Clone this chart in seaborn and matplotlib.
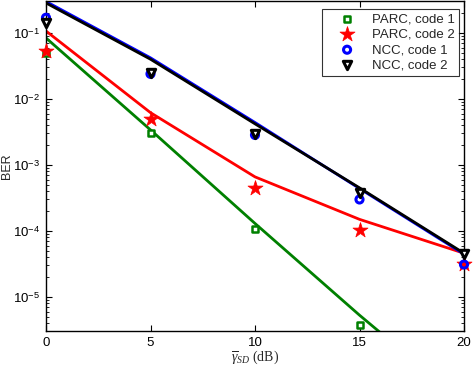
import numpy as np
import matplotlib
matplotlib.use('Agg')
import matplotlib.pyplot as plt
import seaborn as sns
from matplotlib.ticker import LogLocator, FuncFormatter, NullFormatter

# SNR axis (dB)
snr = [0, 5, 10, 15, 20]

# analytical curves
parc1_curve = [0.084, 3.4e-3, 1.3e-4, 5.3e-6, 2.5e-7]
parc2_curve = [0.107, 6.2e-3, 6.6e-4, 1.5e-4, 4.6e-5]
ncc1_curve = [0.30, 0.042, 4.4e-3, 4.4e-4, 4.45e-5]
ncc2_curve = [0.285, 0.040, 4.2e-3, 4.5e-4, 4.6e-5]

# simulated points
parc1_sim_x = [0, 5, 10, 15]
parc1_sim = [0.05, 3.1e-3, 1.07e-4, 3.7e-6]
parc2_sim = [0.053, 5.0e-3, 4.5e-4, 1.05e-4, 3.2e-5]
ncc1_sim = [0.17, 0.024, 2.85e-3, 3.0e-4, 3.1e-5]
ncc2_sim = [0.14, 0.025, 2.95e-3, 3.8e-4, 4.5e-5]

sns.set_style('ticks')
plt.rcParams['font.family'] = ['Liberation Sans', 'DejaVu Sans']
plt.rcParams['mathtext.fontset'] = 'custom'
plt.rcParams['mathtext.rm'] = 'Liberation Sans'
plt.rcParams['mathtext.it'] = 'Liberation Serif:italic'
plt.rcParams['mathtext.bf'] = 'Liberation Sans:bold'

fig = plt.figure(figsize=(4.73, 3.66), dpi=100)
ax = fig.add_axes([46 / 473, 35 / 366, 418 / 473, 330 / 366])

lw = 2
sns.lineplot(x=snr, y=parc1_curve, color='green', lw=lw, ax=ax, legend=False)
sns.lineplot(x=snr, y=parc2_curve, color='red', lw=lw, ax=ax, legend=False)
sns.lineplot(x=snr, y=ncc1_curve, color='blue', lw=lw, ax=ax, legend=False)
sns.lineplot(x=snr, y=ncc2_curve, color='black', lw=lw, ax=ax, legend=False)

sns.scatterplot(x=parc1_sim_x, y=parc1_sim, marker='s', s=18, facecolor='white',
                edgecolor='green', linewidth=1.8, label='PARC, code 1', ax=ax,
                zorder=5, clip_on=False)
sns.scatterplot(x=snr, y=parc2_sim, marker='*', s=130, color='red',
                edgecolor='red', linewidth=0.5, label='PARC, code 2', ax=ax,
                zorder=5, clip_on=False)
sns.scatterplot(x=snr, y=ncc1_sim, marker='o', s=26, facecolor='none',
                edgecolor='blue', linewidth=2.2, label='NCC, code 1', ax=ax,
                zorder=6, clip_on=False)
sns.scatterplot(x=snr, y=ncc2_sim, marker='v', s=36, facecolor='white',
                edgecolor='black', linewidth=2.2, label='NCC, code 2', ax=ax,
                zorder=7, clip_on=False)

ax.set_yscale('log')
ax.set_xlim(0, 20)
ax.set_ylim(3.05e-6, 0.305)
ax.set_xticks([0, 5, 10, 15, 20])
ax.yaxis.set_major_locator(LogLocator(base=10, numticks=10))
ax.yaxis.set_minor_locator(LogLocator(base=10, subs=np.arange(2, 10), numticks=10))
ax.yaxis.set_minor_formatter(NullFormatter())
ax.yaxis.set_major_formatter(FuncFormatter(lambda v, p: r'$10^{%d}$' % round(np.log10(v))))

ax.tick_params(which='both', direction='in', top=True, right=True, labelsize=9.5, colors='black')
ax.tick_params(which='major', length=4, width=0.8, pad=4)
ax.tick_params(which='minor', length=2, width=0.6)
for sp in ax.spines.values():
    sp.set_visible(True)
    sp.set_color('black')
    sp.set_linewidth(1.0)

ax.set_ylabel('BER', fontsize=9)
ax.yaxis.set_label_coords(-0.078, 0.5)
ax.set_xlabel(r'$\overline{\gamma}_{SD}$ (dB)', fontsize=10, family='Liberation Serif', labelpad=0)

leg = ax.legend(loc='upper right', bbox_to_anchor=(0.988, 0.976), borderaxespad=0,
                fontsize=9.5, frameon=True, fancybox=False, labelspacing=0.25,
                handletextpad=0.3, handlelength=3.2, borderpad=0.3)
leg.get_frame().set_edgecolor('black')
leg.get_frame().set_linewidth(0.8)

plt.savefig('out.png', dpi=100)
